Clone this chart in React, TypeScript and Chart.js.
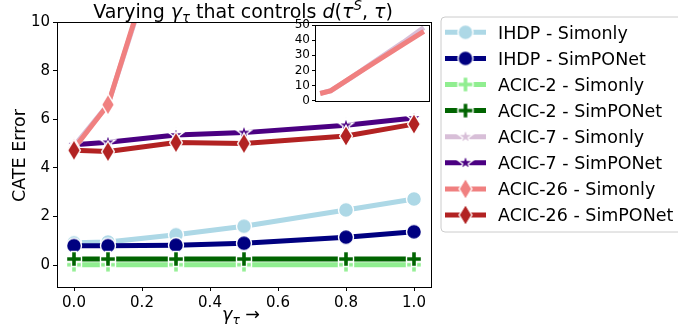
import React, { useEffect, useRef } from 'react';
import { Chart, registerables } from 'chart.js';
Chart.register(...registerables);

const gammaValues = [0, 0.1, 0.3, 0.5, 0.8, 1.0];
const ihdpSimonly = [0.92, 0.95, 1.25, 1.6, 2.27, 2.72];
const ihdpSimponet = [0.8, 0.8, 0.82, 0.9, 1.15, 1.37];
const acic2Simonly = [0.02, 0.02, 0.02, 0.02, 0.02, 0.02];
const acic2Simponet = [0.25, 0.25, 0.25, 0.25, 0.25, 0.25];
const acic7Simonly = [4.9, 6.6, 15.3, 24.8, 38.5, 48.3];
const acic7Simponet = [4.95, 5.05, 5.35, 5.45, 5.75, 6.05];
const acic26Simonly = [4.8, 6.6, 15.5, 24.2, 37.2, 45.8];
const acic26Simponet = [4.72, 4.67, 5.04, 5.0, 5.31, 5.8];

const seriesLabels = [
  'IHDP - Simonly',
  'IHDP - SimPONet',
  'ACIC-2 - Simonly',
  'ACIC-2 - SimPONet',
  'ACIC-7 - Simonly',
  'ACIC-7 - SimPONet',
  'ACIC-26 - Simonly',
  'ACIC-26 - SimPONet',
];
const seriesValues = [
  ihdpSimonly, ihdpSimponet, acic2Simonly, acic2Simponet,
  acic7Simonly, acic7Simponet, acic26Simonly, acic26Simponet,
];
const seriesColors = [
  '#ADD8E6', '#000080', '#90EE90', '#006400',
  '#D8BFD8', '#4B0082', '#F08080', '#B22222',
];
const seriesShapes = [
  'circle', 'circle', 'plus', 'plus', 'star', 'star', 'thin_diamond', 'thin_diamond',
];
const insetSeries = [4, 6];

const yTicksMain = [0, 2, 4, 6, 8, 10];
const xTicksMain = [0, 0.2, 0.4, 0.6, 0.8, 1.0];
const yTicksInset = [0, 10, 20, 30, 40, 50];

const FONT = '"DejaVu Sans", sans-serif';

function makeMarker(shape: string, color: string): HTMLCanvasElement {
  const S = 28;
  const c = document.createElement('canvas');
  c.width = S;
  c.height = S;
  const ctx = c.getContext('2d')!;
  ctx.translate(S / 2, S / 2);
  const ms = 15;
  ctx.beginPath();
  if (shape === 'circle') {
    ctx.arc(0, 0, ms / 2, 0, Math.PI * 2);
  } else if (shape === 'plus') {
    const a = ms / 2, b = ms / 6;
    const pts = [[-b, -a], [b, -a], [b, -b], [a, -b], [a, b], [b, b], [b, a], [-b, a], [-b, b], [-a, b], [-a, -b], [-b, -b]];
    pts.forEach((p, i) => (i ? ctx.lineTo(p[0], p[1]) : ctx.moveTo(p[0], p[1])));
  } else if (shape === 'star') {
    const R = ms / 2 * 1.05, r = R * 0.381966;
    for (let i = 0; i < 10; i++) {
      const ang = -Math.PI / 2 + (i * Math.PI) / 5;
      const rr = i % 2 === 0 ? R : r;
      const x = Math.cos(ang) * rr, y = Math.sin(ang) * rr;
      i ? ctx.lineTo(x, y) : ctx.moveTo(x, y);
    }
  } else {
    const hh = ms * 0.707, hw = ms * 0.424;
    ctx.moveTo(0, -hh);
    ctx.lineTo(hw, 0);
    ctx.lineTo(0, hh);
    ctx.lineTo(-hw, 0);
  }
  ctx.closePath();
  ctx.fillStyle = color;
  ctx.fill();
  ctx.strokeStyle = '#ffffff';
  ctx.lineWidth = 1.4;
  ctx.lineJoin = 'miter';
  ctx.stroke();
  return c;
}

type Part = { t: string; it?: boolean; s?: number; dy?: number };

function drawRich(ctx: CanvasRenderingContext2D, parts: Part[], cx: number, baseline: number, size: number) {
  const fontOf = (p: Part) => `${p.it ? 'italic ' : ''}${size * (p.s || 1)}px ${FONT}`;
  let total = 0;
  const widths = parts.map((p) => {
    ctx.font = fontOf(p);
    const w = ctx.measureText(p.t).width;
    total += w;
    return w;
  });
  let x = cx - total / 2;
  ctx.textAlign = 'left';
  ctx.textBaseline = 'alphabetic';
  ctx.fillStyle = '#000';
  parts.forEach((p, i) => {
    ctx.font = fontOf(p);
    ctx.fillText(p.t, x, baseline + (p.dy || 0));
    x += widths[i];
  });
}

export default function App() {
  const mainRef = useRef<HTMLCanvasElement>(null);
  const insetRef = useRef<HTMLCanvasElement>(null);

  useEffect(() => {
    const markers = seriesShapes.map((s, i) => makeMarker(s, seriesColors[i]));

    const framePlugin = {
      id: 'frame',
      afterDraw(chart: any) {
        const { ctx, chartArea } = chart;
        ctx.save();
        ctx.strokeStyle = '#000';
        ctx.lineWidth = 1;
        ctx.strokeRect(
          Math.round(chartArea.left) + 0.5,
          Math.round(chartArea.top) + 0.5,
          Math.round(chartArea.right - chartArea.left),
          Math.round(chartArea.bottom - chartArea.top)
        );
        ctx.restore();
      },
    };

    const textPlugin = {
      id: 'texts',
      afterDraw(chart: any) {
        const ctx = chart.ctx as CanvasRenderingContext2D;
        ctx.save();
        // title
        drawRich(ctx, [
          { t: 'Varying ' },
          { t: 'γ', it: true },
          { t: 'τ', it: true, s: 0.7, dy: 4 },
          { t: ' that controls ' },
          { t: 'd', it: true },
          { t: '(' },
          { t: 'τ', it: true },
          { t: 'S', it: true, s: 0.7, dy: -7.5 },
          { t: ', ' },
          { t: 'τ', it: true },
          { t: ')' },
        ], 243, 17.5, 19);
        // x title
        drawRich(ctx, [
          { t: 'γ', it: true },
          { t: 'τ', it: true, s: 0.7, dy: 4 },
          { t: ' →' },
        ], 241, 320, 17.5);
        // y title
        ctx.translate(25, 155.5);
        ctx.rotate(-Math.PI / 2);
        ctx.font = `17.5px ${FONT}`;
        ctx.textAlign = 'center';
        ctx.textBaseline = 'alphabetic';
        ctx.fillStyle = '#000';
        ctx.fillText('CATE Error', 0, 0);
        ctx.restore();

        // legend
        ctx.save();
        const lx = 441, ly = 17, lw = 270, lh = 215, rad = 4;
        ctx.beginPath();
        ctx.moveTo(lx + rad, ly);
        ctx.lineTo(lx + lw - rad, ly);
        ctx.arcTo(lx + lw, ly, lx + lw, ly + rad, rad);
        ctx.lineTo(lx + lw, ly + lh - rad);
        ctx.arcTo(lx + lw, ly + lh, lx + lw - rad, ly + lh, rad);
        ctx.lineTo(lx + rad, ly + lh);
        ctx.arcTo(lx, ly + lh, lx, ly + lh - rad, rad);
        ctx.lineTo(lx, ly + rad);
        ctx.arcTo(lx, ly, lx + rad, ly, rad);
        ctx.closePath();
        ctx.fillStyle = 'rgba(255,255,255,0.8)';
        ctx.fill();
        ctx.strokeStyle = '#cccccc';
        ctx.lineWidth = 1;
        ctx.stroke();
        seriesLabels.forEach((lab, i) => {
          const cy = 32.3 + i * 26.1;
          ctx.beginPath();
          ctx.moveTo(445, cy);
          ctx.lineTo(486, cy);
          ctx.strokeStyle = seriesColors[i];
          ctx.lineWidth = 5;
          ctx.lineCap = 'butt';
          ctx.stroke();
          const m = markers[i];
          ctx.drawImage(m, 465.5 - m.width / 2, cy - m.height / 2);
          ctx.font = `17.5px ${FONT}`;
          ctx.textAlign = 'left';
          ctx.textBaseline = 'alphabetic';
          ctx.fillStyle = '#000';
          ctx.fillText(lab, 498, cy + 6.3);
        });
        ctx.restore();
      },
    };

    const main = new Chart(mainRef.current!, {
      type: 'line',
      data: {
        datasets: seriesValues.map((vals, i) => ({
          label: seriesLabels[i],
          data: gammaValues.map((x, j) => ({ x, y: vals[j] })),
          borderColor: seriesColors[i],
          backgroundColor: seriesColors[i],
          borderWidth: 5,
          borderJoinStyle: 'round' as const,
          pointStyle: markers[i] as any,
          pointRadius: 8,
          pointHoverRadius: 8,
          fill: false,
          tension: 0,
          clip: 0 as any,
          order: seriesValues.length - i,
        })),
      },
      options: {
        responsive: false,
        devicePixelRatio: 1,
        animation: false,
        events: [],
        layout: { padding: { left: 0, right: 247, top: 22, bottom: 0 } },
        plugins: { legend: { display: false }, tooltip: { enabled: false }, title: { display: false } },
        scales: {
          x: {
            type: 'linear',
            min: -0.05,
            max: 1.05,
            afterBuildTicks: (scale: any) => { scale.ticks = xTicksMain.map((v) => ({ value: v })); },
            afterFit: (scale: any) => { scale.height = 46; },
            grid: { display: true, drawOnChartArea: false, drawTicks: true, tickLength: 4, color: '#000' },
            border: { display: false },
            ticks: {
              autoSkip: false,
              maxRotation: 0,
              padding: 3,
              color: '#000',
              font: { family: FONT, size: 15 },
              callback: (v: any) => Number(v).toFixed(1),
            },
          },
          y: {
            type: 'linear',
            min: -0.9,
            max: 10,
            afterBuildTicks: (scale: any) => { scale.ticks = yTicksMain.map((v) => ({ value: v })); },
            afterFit: (scale: any) => { scale.width = 57; },
            grid: { display: true, drawOnChartArea: false, drawTicks: true, tickLength: 4, color: '#000' },
            border: { display: false },
            ticks: {
              autoSkip: false,
              padding: 3,
              color: '#000',
              font: { family: FONT, size: 15 },
              callback: (v: any) => String(v),
            },
          },
        },
      },
      plugins: [framePlugin, textPlugin],
    } as any);

    const bgPlugin = {
      id: 'bg',
      beforeDraw(chart: any) {
        const { ctx, chartArea } = chart;
        ctx.save();
        ctx.fillStyle = '#fff';
        ctx.fillRect(chartArea.left, chartArea.top, chartArea.right - chartArea.left, chartArea.bottom - chartArea.top);
        ctx.restore();
      },
    };

    const inset = new Chart(insetRef.current!, {
      type: 'line',
      data: {
        datasets: insetSeries.map((si, k) => ({
          label: seriesLabels[si],
          data: gammaValues.map((x, j) => ({ x, y: seriesValues[si][j] })),
          borderColor: seriesColors[si],
          borderWidth: 5,
          borderJoinStyle: 'round' as const,
          pointRadius: 0,
          fill: false,
          tension: 0,
          clip: 0 as any,
          order: insetSeries.length - k,
        })),
      },
      options: {
        responsive: false,
        devicePixelRatio: 1,
        animation: false,
        events: [],
        layout: { padding: { left: 0, right: 6, top: 10, bottom: 6 } },
        plugins: { legend: { display: false }, tooltip: { enabled: false } },
        scales: {
          x: { type: 'linear', min: -0.05, max: 1.05, display: false },
          y: {
            type: 'linear',
            min: 0,
            max: 50,
            afterBuildTicks: (scale: any) => { scale.ticks = yTicksInset.map((v) => ({ value: v })); },
            afterFit: (scale: any) => { scale.width = 35; },
            grid: { display: true, drawOnChartArea: false, drawTicks: true, tickLength: 3, color: '#000' },
            border: { display: false },
            ticks: {
              autoSkip: false,
              padding: 2,
              color: '#000',
              font: { family: FONT, size: 12 },
              callback: (v: any) => String(v),
            },
          },
        },
      },
      plugins: [bgPlugin, framePlugin],
    } as any);

    return () => {
      main.destroy();
      inset.destroy();
    };
  }, []);

  return (
    <div style={{ position: 'fixed', left: 0, top: 0, width: 678, height: 333, background: '#fff', overflow: 'hidden' }}>
      <canvas ref={mainRef} width={678} height={333} style={{ position: 'absolute', left: 0, top: 0 }} />
      <canvas ref={insetRef} width={155} height={95} style={{ position: 'absolute', left: 280, top: 15 }} />
    </div>
  );
}
